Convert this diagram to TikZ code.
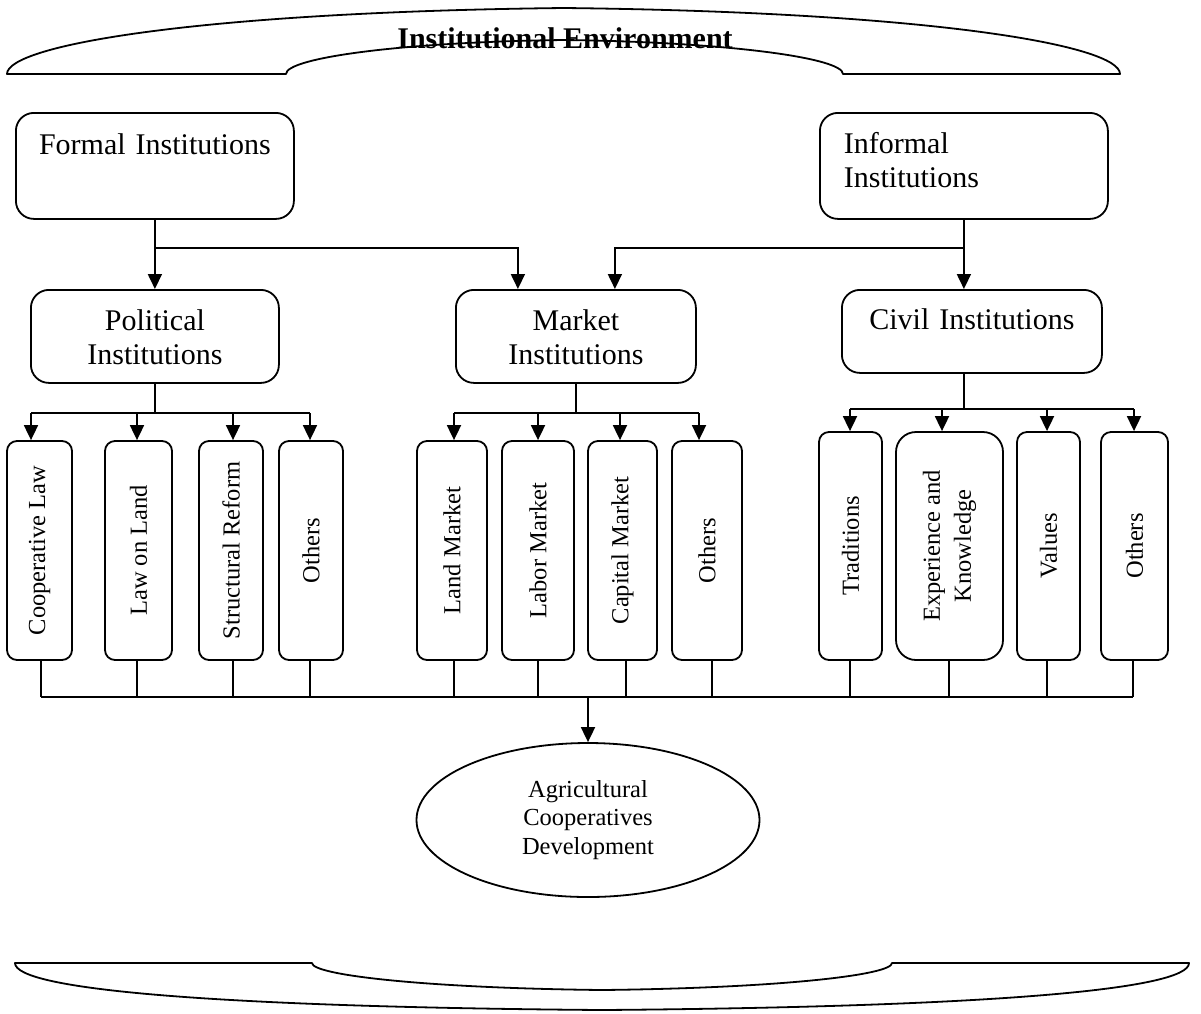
\documentclass[tikz,border=0pt]{standalone}
\usepackage{fontspec}
\setmainfont{Liberation Serif}
\usetikzlibrary{arrows.meta,shapes.geometric}

\tikzset{
	envline/.style={line width=1.8pt, line join=round},
	link/.style={line width=1.8pt},
	arr/.style={line width=1.8pt, -{Triangle[width=14pt,length=15pt]}},
	bigbox/.style={draw, line width=1.8pt, rounded corners=18pt, inner sep=0pt, align=center, font=\fontsize{30}{34}\selectfont},
	leafbox/.style={draw, line width=1.8pt, rounded corners=10pt, inner sep=0pt, rotate=90, align=center, font=\fontsize{24.5}{31}\selectfont},
}

\begin{document}
\begin{tikzpicture}[x=1pt,y=-1pt]
		\useasboundingbox (0,0) rectangle (1201,1013);
		
		% environment braces
		\draw[envline] (7,74) .. controls (7,45) and (200,12) .. (564,8) .. controls (928,12) and (1120,45) .. (1120,74) -- (843,74) .. controls (843,58) and (728,42) .. (564,40) .. controls (400,42) and (286,58) .. (286,74) -- cycle;
		\draw[envline] (15,963) .. controls (15,990) and (220,1007) .. (602,1010) .. controls (984,1007) and (1189,990) .. (1189,963) -- (892,963) .. controls (892,975) and (780,988) .. (602,990) .. controls (424,988) and (312,975) .. (312,963) -- cycle;
		\node[anchor=base, font=\fontsize{30}{36}\selectfont\bfseries] (env) at (565,48) {Institutional Environment};
		
		% institutions
		\node[bigbox, anchor=north west, text width=278pt, text height=42pt, text depth=64pt] (formal) at (15,112) {Formal Institutions};
		\node[bigbox, anchor=north west, align=left, inner xsep=24pt, text width=240pt, text height=41pt, text depth=65pt] (informal) at (819,112) {Informal\\Institutions};
		\node[bigbox, anchor=north west, text width=248pt, text height=41pt, text depth=52pt] (political) at (30,289) {Political\\Institutions};
		\node[bigbox, anchor=north west, text width=240pt, text height=41pt, text depth=52pt] (market) at (455,289) {Market\\Institutions};
		\node[bigbox, anchor=north west, text width=260pt, text height=40pt, text depth=43pt] (civil) at (841,289) {Civil Institutions};
		\node[draw, ellipse, line width=1.8pt, inner sep=0pt, minimum width=343pt, minimum height=154pt, align=center, font=\fontsize{24.5}{28.5}\selectfont] (goal) at (588,820) {Agricultural\\Cooperatives\\Development};
		
		\coordinate (fj) at (formal.south |- 0,248);
		\coordinate (ij) at (informal.south |- 0,248);
		\draw[link] (formal.south) -- (fj);
		\draw[arr] (fj) -- (fj |- political.north);
		\draw[arr] (fj) -| ([xshift=-58pt]market.north);
		\draw[link] (informal.south) -- (ij);
		\draw[arr] (ij) -- (ij |- civil.north);
		\draw[arr] (ij) -| ([xshift=39pt]market.north);
		
		\coordinate (polbar) at (political.south |- 0,413);
		\coordinate (mktbar) at (market.south |- 0,413);
		\coordinate (civbar) at (ij |- 0,409);
		\draw[link] (political.south) -- (polbar);
		\draw[link] (market.south) -- (mktbar);
		\draw[link] (ij |- civil.south) -- (civbar);
		\coordinate (polL) at (31,413);
		\coordinate (polR) at (310,413);
		\coordinate (mktL) at (454,413);
		\coordinate (mktR) at (699,413);
		\coordinate (civL) at (850,409);
		\coordinate (civR) at (1134,409);
		\draw[link] (polL) -- (polR);
		\draw[link] (mktL) -- (mktR);
		\draw[link] (civL) -- (civR);
		
		\coordinate (baseL) at (41,697);
		\coordinate (baseR) at (1133,697);
		\coordinate (basebar) at (goal.north |- baseL);
		\draw[link] (baseL) -- (baseR);
		\draw[arr] (basebar) -- (goal.north);
		
		% leaves
		\foreach \nm/\cx/\w/\ax/\sx/\txt in {coop/39.5/65/31/41/Cooperative Law, lawland/138.5/67/137/137/Law on Land, reform/231/64/233/233/Structural Reform, othpol/311/64/310/310/Others}{
			\node[leafbox, minimum width=219pt, minimum height=\w] (\nm) at (\cx,550.5) {\txt};
			\draw[arr] (\ax,0 |- polbar) -- (\ax,0 |- \nm.east);
			\draw[link] (\sx,0 |- \nm.west) -- (\sx,0 |- baseL);
		}
		\foreach \nm/\cx/\w/\ax/\sx/\txt in {landm/452/70/454/454/Land Market, laborm/538/72/538/538/Labor Market, capm/622.5/69/620/626/Capital Market, othmkt/707/70/699/712/Others}{
			\node[leafbox, minimum width=219pt, minimum height=\w] (\nm) at (\cx,550.5) {\txt};
			\draw[arr] (\ax,0 |- mktbar) -- (\ax,0 |- \nm.east);
			\draw[link] (\sx,0 |- \nm.west) -- (\sx,0 |- baseL);
		}
		\foreach \nm/\cx/\w/\ax/\sx/\txt/\rc in {trad/850.5/63/850/850/Traditions/10, expknow/949.5/107/942/949/Experience and\\Knowledge/20, values/1048.5/63/1047/1047/Values/10, othciv/1134.5/67/1134/1133/Others/10}{
			\node[leafbox, rounded corners=\rc pt, minimum width=228pt, minimum height=\w] (\nm) at (\cx,546) {\txt};
			\draw[arr] (\ax,0 |- civbar) -- (\ax,0 |- \nm.east);
			\draw[link] (\sx,0 |- \nm.west) -- (\sx,0 |- baseL);
		}
	\end{tikzpicture}
\end{document}
